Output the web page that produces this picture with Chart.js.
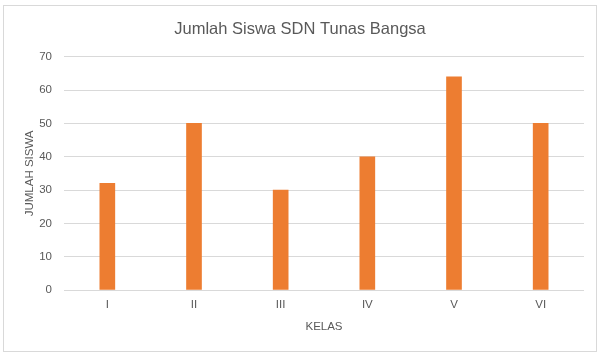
<!DOCTYPE html>
<html>
<head>
<meta charset="utf-8">
<script src="https://cdn.jsdelivr.net/npm/chart.js@4"></script>
<style>
html,body{margin:0;padding:0;background:#fff;}
#wrap{width:600px;height:357px;position:relative;}
</style>
</head>
<body>
<div id="wrap"><canvas id="c" width="600" height="357"></canvas></div>
<script>
const categories = ["I", "II", "III", "IV", "V", "VI"];
const jumlahSiswa = [32, 50, 30, 40, 64, 50];
const yTicks = [0, 10, 20, 30, 40, 50, 60, 70];
const chartTitle = "Jumlah Siswa SDN Tunas Bangsa";
const xTitle = "KELAS";
const yTitle = "JUMLAH SISWA";

const FONT = "'Liberation Sans', Arial, sans-serif";
const TXT = "#595959";

const frame = {
  id: 'frame',
  beforeDraw(chart) {
    const ctx = chart.ctx;
    ctx.save();
    ctx.fillStyle = '#fff';
    ctx.fillRect(0, 0, chart.width, chart.height);
    ctx.strokeStyle = '#d9d9d9';
    ctx.lineWidth = 1;
    ctx.strokeRect(3.5, 5.5, 593, 346);
    ctx.restore();
  }
};

new Chart(document.getElementById('c'), {
  type: 'bar',
  data: {
    labels: categories,
    datasets: [{
      data: jumlahSiswa,
      backgroundColor: '#ED7D31',
      borderWidth: 0,
      barThickness: 15
    }]
  },
  options: {
    responsive: false,
    animation: false,
    devicePixelRatio: 1,
    layout: { padding: { left: 16, right: 16, top: 0, bottom: 23 } },
    plugins: {
      legend: { display: false },
      tooltip: { enabled: false },
      title: {
        display: true,
        text: chartTitle,
        color: TXT,
        font: { family: FONT, size: 16.5, weight: 'normal' },
        padding: { top: 20, bottom: 17 }
      }
    },
    scales: {
      x: {
        grid: { display: false, drawTicks: false },
        border: { display: false },
        ticks: { color: TXT, font: { family: FONT, size: 11.5 }, padding: 8 },
        title: { display: true, text: xTitle, color: TXT, font: { family: FONT, size: 11.5 }, padding: { top: 4, bottom: 0 } },
        afterFit(s) { s.height = 44; }
      },
      y: {
        min: 0, max: 70,
        afterBuildTicks(s) { s.ticks = yTicks.map(v => ({ value: v })); },
        grid: { color: '#d9d9d9', drawTicks: false },
        border: { display: false },
        ticks: { color: TXT, font: { family: FONT, size: 11.5 }, padding: 12 },
        title: { display: true, text: yTitle, color: TXT, font: { family: FONT, size: 11.5 }, padding: { top: 7, bottom: 0 } },
        afterFit(s) { s.width = 48; }
      }
    }
  },
  plugins: [frame]
});
</script>
</body>
</html>
